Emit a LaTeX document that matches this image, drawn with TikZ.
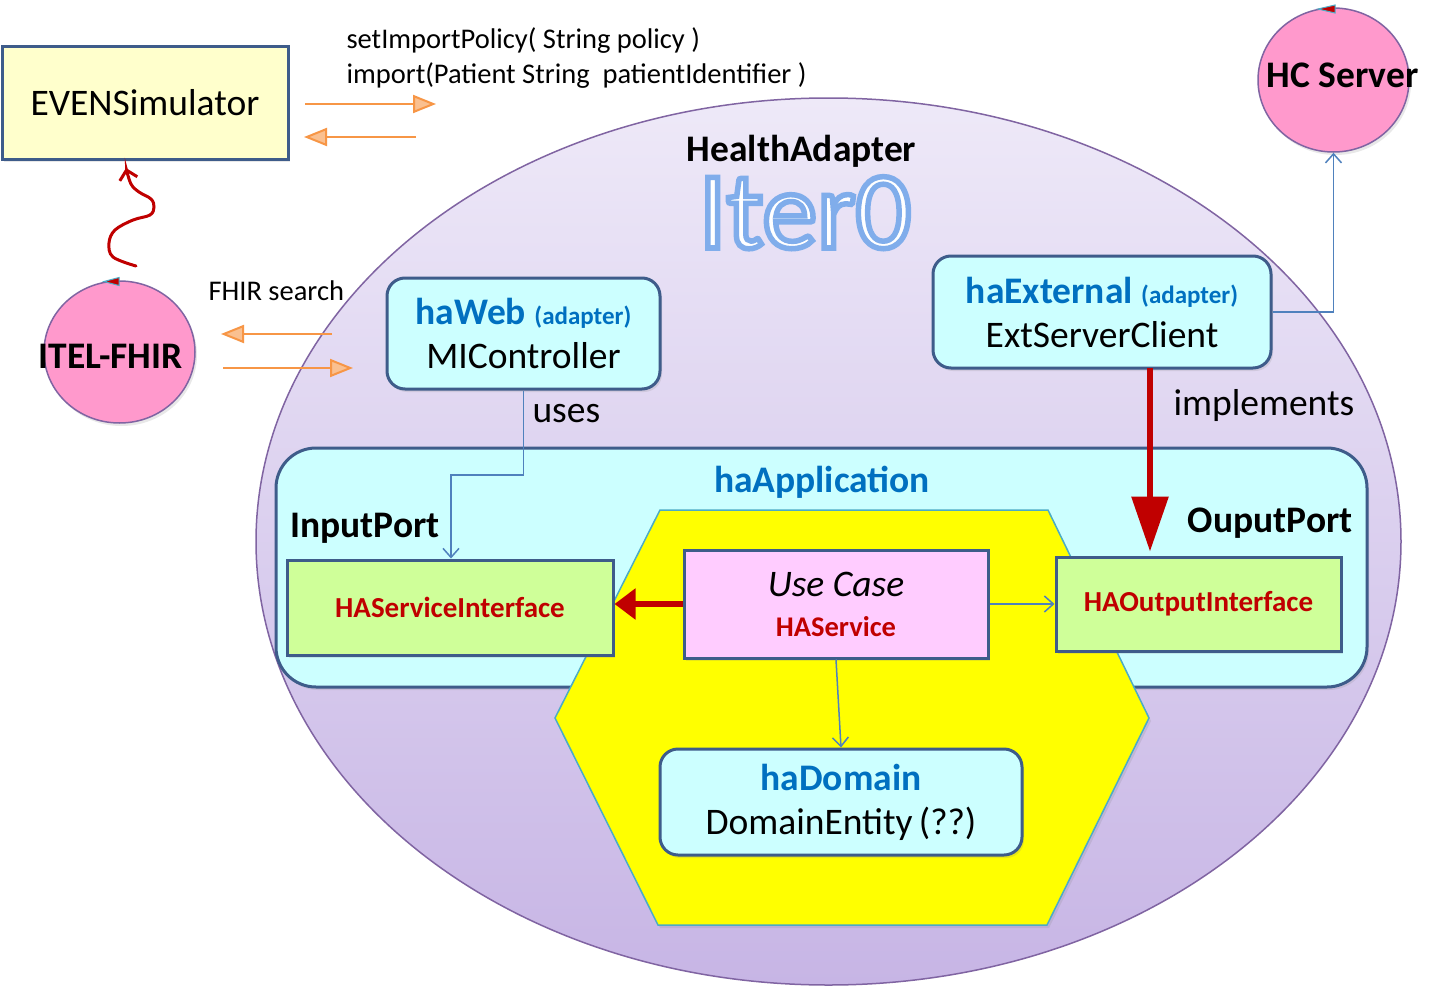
\documentclass[tikz,border=0pt]{standalone}
\usepackage{fontspec}
\setmainfont{Carlito}
\usetikzlibrary{arrows.meta,shapes.geometric,shadows}
\definecolor{boxline}{HTML}{3E5C8A}
\definecolor{cyanf}{HTML}{CCFFFF}
\definecolor{greenf}{HTML}{CFFF99}
\definecolor{pinkf}{HTML}{FFCCFF}
\definecolor{yellowf}{HTML}{FFFFCC}
\definecolor{circf}{HTML}{FF99CC}
\definecolor{purpline}{HTML}{8064A2}
\definecolor{textblue}{HTML}{0070C0}
\definecolor{darkred}{HTML}{C00000}
\definecolor{connblue}{HTML}{4F81BD}
\definecolor{hexline}{HTML}{4BACC6}
\definecolor{orangel}{HTML}{F79646}
\definecolor{orangef}{HTML}{FAC090}
\definecolor{elltop}{HTML}{EEE9F8}
\definecolor{ellbot}{HTML}{C7B5E5}
\definecolor{markcyan}{HTML}{4BACC6}
\definecolor{hexyellow}{RGB}{255,255,0}
\tikzset{
  softshadow/.style={drop shadow={opacity=0.18, shadow xshift=2pt, shadow yshift=-3pt}},
  plainbox/.style={draw=boxline, line width=3pt, inner sep=0pt, align=center, softshadow},
  roundbox/.style={plainbox, rounded corners=18pt, fill=cyanf},
  bigtxt/.style={font=\fontsize{37.5pt}{44pt}\selectfont},
  bigbold/.style={font=\fontsize{37.5pt}{44pt}\selectfont\bfseries},
  smalltxt/.style={font=\fontsize{28.5pt}{35pt}\selectfont},
  ifacetxt/.style={font=\fontsize{29pt}{33pt}\selectfont\bfseries, text=darkred},
  circnode/.style={ellipse, draw=purpline, line width=1.5pt, fill=circf, inner sep=0pt, softshadow},
  orangearrow/.style={draw=orangel, line width=2pt, -{Triangle[length=23pt,width=18pt,fill=orangef]}},
  bluearrow/.style={draw=connblue, line width=1.5pt, -{Straight Barb[length=9pt,width=16pt,line width=1.5pt]}},
}
\newcommand{\adapt}{{\fontsize{25pt}{30pt}\selectfont\bfseries\textcolor{textblue}{(adapter)}}}
\newcommand{\outlinedtext}[1]{{\color{white}\special{pdf:literal direct 2 Tr 5.5 w 0.50 0.68 0.92 RG}#1\special{pdf:literal direct 0 Tr 1 w 0 0 0 RG}}}
\begin{document}
\begin{tikzpicture}[x=1pt,y=-1pt]
\useasboundingbox (0,0) rectangle (1452,996);
\fill[white] (0,0) rectangle (1452,996);
% big ellipse
\shade[top color=elltop, bottom color=ellbot] (828.5,541.5) ellipse [x radius=572.5pt, y radius=443.5pt];
\draw[purpline, line width=1.5pt] (828.5,541.5) ellipse [x radius=572.5pt, y radius=443.5pt];
\node[bigbold, anchor=base] (hatitle) at (801.5,161) {HealthAdapter};
\node[font=\fontsize{110pt}{120pt}\selectfont, anchor=base] (iter) at (805,248) {\outlinedtext{Iter0}};
% adapters
\node[roundbox, minimum width=273pt, minimum height=111pt, bigtxt] (haweb) at (523.5,333.5)
  {\textcolor{textblue}{\bfseries haWeb} \adapt\\MIController};
\node[roundbox, minimum width=338pt, minimum height=112pt, bigtxt] (haext) at (1102,312)
  {\textcolor{textblue}{\bfseries haExternal} \adapt\\ExtServerClient};
\node[bigtxt, anchor=base west] (uses) at (529,422) {uses};
\node[bigtxt, anchor=base west] (impl) at (1170,415) {implements};
% application
\node[plainbox, rounded corners=40pt, fill=cyanf, minimum width=1091pt, minimum height=239pt] (haapp) at (821.5,567.5) {};
\node[bigbold, text=textblue, anchor=base] (haapplbl) at (822,492) {haApplication};
\node[bigbold, anchor=base west] (inport) at (287,537) {InputPort};
\node[bigbold, anchor=base east] (outport) at (1356,532) {OuputPort};
% hexagon
\filldraw[fill=hexyellow, draw=hexline, line width=1.5pt, softshadow]
  (660,510) -- (1048,510) -- (1149,718) -- (1047,925) -- (658,925) -- (555,718) -- cycle;
% inner boxes
\node[plainbox, fill=greenf, minimum width=326pt, minimum height=95pt, ifacetxt] (hsi) at (450,607.5) {HAServiceInterface};
\node[plainbox, fill=greenf, minimum width=285pt, minimum height=94pt, ifacetxt] (hoi) at (1198.5,604) {HAOutputInterface};
\node[plainbox, fill=pinkf, minimum width=304pt, minimum height=108pt, bigtxt] (usecase) at (836,604)
  {\itshape Use Case\\[-4pt]{\fontsize{28.5pt}{33pt}\selectfont\bfseries\color{darkred}HAService}};
\node[roundbox, minimum width=362pt, minimum height=106pt, bigtxt] (hadomain) at (841,802)
  {\textcolor{textblue}{\bfseries haDomain}\\DomainEntity\,(??)};
% connectors inside
\coordinate (usesbend) at (451,475);
\draw[bluearrow] (haweb.south) |- (usesbend) -- (usesbend |- hsi.north);
\draw[bluearrow] (usecase.east) -- (usecase.east -| hoi.west);
\draw[bluearrow] (usecase.south) -- (hadomain.north);
\draw[darkred, line width=6pt, -{Triangle[length=21pt,width=30pt]}] (usecase.west) -- (usecase.west -| hsi.east);
\coordinate (impltop) at (1150,368);
\draw[darkred, line width=6pt, -{Triangle[length=55pt,width=36pt]}, shorten >=4pt] (impltop) -- (impltop |- hoi.north);
% outside elements
\node[plainbox, fill=yellowf, minimum width=286pt, minimum height=113pt] (evens) at (145,102.5) {};
\node[bigtxt, anchor=base] (evenslbl) at (145,115) {EVENSimulator};
\node[smalltxt, anchor=base west] (call1) at (343,48) {setImportPolicy( String policy )};
\node[smalltxt, anchor=base west] (call2) at (343,83) {import(Patient String\ \ patientIdentifier )};
\coordinate (o1s) at (305,104); \coordinate (o1e) at (436,104);
\coordinate (o2s) at (416,137); \coordinate (o2e) at (304,137);
\draw[orangearrow] (o1s) -- (o1e);
\draw[orangearrow] (o2s) -- (o2e);
\node[circnode, minimum width=151pt, minimum height=142pt] (itel) at (119.5,352) {};
\node[bigbold, anchor=base] (itellbl) at (110.5,368) {ITEL-FHIR};
\node[circnode, minimum width=151pt, minimum height=144pt] (hc) at (1333.5,80) {};
\node[bigbold, anchor=base] (hclbl) at (1342.5,87) {HC Server};
\node[smalltxt, anchor=base west] (fhirs) at (205,300) {FHIR search};
\coordinate (o3s) at (332,334); \coordinate (o3e) at (221,334);
\coordinate (o4s) at (223,368); \coordinate (o4e) at (353,368);
\draw[orangearrow] (o3s) -- (o3e);
\draw[orangearrow] (o4s) -- (o4e);
\draw[bluearrow] (haext.east) -| (hc.south);
% squiggle
\draw[darkred, line width=3pt, line cap=round, -{Straight Barb[length=9pt,width=18pt,line width=3pt]}]
  plot[smooth, tension=0.6] coordinates {(136,266) (113,257) (109,243) (115,230) (133,220) (150,215) (154,207) (151,199) (139,192) (131,184) (126,168)};
% markers
\filldraw[fill=darkred, draw=markcyan, line width=1pt] (104,281.5) -- (119,277.5) -- (119,285.5) -- cycle;
\filldraw[fill=darkred, draw=markcyan, line width=1pt] (1318,9) -- (1335,5) -- (1335,13) -- cycle;
\end{tikzpicture}
\end{document}
